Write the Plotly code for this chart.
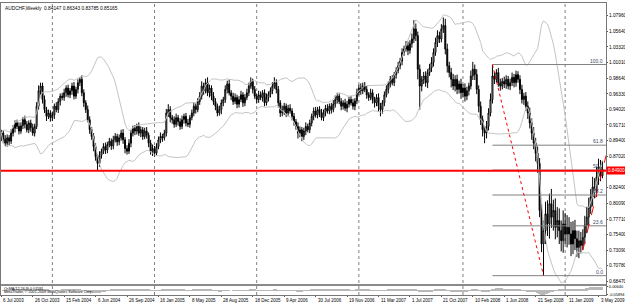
import numpy as np
import pandas as pd
import plotly.graph_objects as go

SYMBOL = "AUDCHF,Weekly"
START = "2003-07-06"
FIRST_OPEN = 0.898

CLOSE = [
    0.905, 0.896, 0.890, 0.898, 0.893, 0.905, 0.912, 0.920, 0.915, 0.908,
    0.916, 0.925, 0.918, 0.910, 0.920, 0.913, 0.905, 0.915,
    0.945, 0.968, 0.975,
    0.955, 0.940, 0.930, 0.935, 0.928,
    0.932, 0.945, 0.940, 0.952, 0.960, 0.958, 0.965, 0.972, 0.962, 0.968,
    0.975, 0.960, 0.970, 0.980, 0.985,
    0.965, 0.950, 0.940, 0.925, 0.910, 0.900, 0.885,
    0.870, 0.860, 0.872,
    0.878, 0.885, 0.880, 0.888, 0.893, 0.886, 0.895, 0.900, 0.892, 0.898,
    0.905, 0.895, 0.882, 0.878, 0.890, 0.905, 0.912,
    0.908, 0.915, 0.905, 0.910, 0.900, 0.908, 0.902,
    0.890, 0.878, 0.882, 0.875, 0.885,
    0.895, 0.900, 0.898, 0.905,
    0.935, 0.940, 0.928,
    0.925, 0.918, 0.928, 0.922, 0.915, 0.925, 0.930, 0.920, 0.918, 0.928,
    0.935, 0.945, 0.940, 0.952, 0.960,
    0.975, 0.968, 0.980, 0.965, 0.972, 0.960, 0.952,
    0.945, 0.935, 0.940, 0.950, 0.955,
    0.970, 0.978, 0.965,
    0.960, 0.952, 0.958, 0.948, 0.955, 0.962, 0.950, 0.958, 0.965,
    0.975, 0.982, 0.970,
    0.960, 0.955, 0.962, 0.958, 0.965, 0.950, 0.958, 0.963, 0.968,
    0.975, 0.980, 0.970,
    0.950, 0.935, 0.940, 0.945, 0.935, 0.942, 0.938, 0.930,
    0.922, 0.915, 0.905, 0.910, 0.900, 0.908, 0.915, 0.910, 0.920,
    0.930, 0.938, 0.932, 0.940, 0.935, 0.928, 0.936, 0.942, 0.938, 0.945, 0.940, 0.948,
    0.955, 0.960, 0.952,
    0.945, 0.950, 0.942, 0.948, 0.955, 0.950, 0.945, 0.953,
    0.965, 0.972, 0.968, 0.975, 0.970,
    0.962, 0.958, 0.965, 0.955, 0.950, 0.958,
    0.945, 0.940, 0.950,
    0.962, 0.970, 0.978, 0.985, 0.980, 0.992, 0.998, 1.005, 1.012,
    1.025, 1.030, 1.035, 1.028, 1.038, 1.045,
    1.060, 1.050,
    1.000, 0.975, 0.985,
    0.990, 0.980, 0.995, 1.002, 1.010,
    1.025, 1.040, 1.050, 1.045, 1.060,
    1.065,
    1.030, 1.005, 0.995, 0.985,
    0.975, 0.985, 0.970, 0.978, 0.965, 0.972,
    0.960, 0.968, 0.975, 0.990,
    1.000, 0.992,
    0.970, 0.945, 0.925, 0.910, 0.905, 0.915,
    0.935, 0.955,
    0.990, 0.985, 0.995, 0.980, 0.975, 0.982, 0.978, 0.985, 0.975, 0.980, 0.988, 0.980, 0.992, 0.985,
    0.970, 0.955, 0.960, 0.945, 0.935,
    0.920, 0.905, 0.890, 0.875,
    0.860,
    0.790, 0.740, 0.760,
    0.785, 0.770, 0.800, 0.780, 0.790, 0.765, 0.775,
    0.760, 0.745, 0.770, 0.755, 0.765,
    0.755, 0.740, 0.760, 0.748, 0.735, 0.745, 0.738,
    0.750, 0.768, 0.780,
    0.795, 0.810, 0.825, 0.820,
    0.840, 0.855, 0.84147, 0.85165,
]

# upper / lower wick lengths, thousandths
UW = [
    5, 4, 6, 5, 4, 6, 5, 4, 5, 6,
    5, 4, 6, 5, 4, 5, 6, 4,
    6, 8, 5,
    5, 6, 4, 5, 4,
    5, 4, 6, 5, 4, 5, 6, 4, 5, 4,
    5, 6, 4, 5, 3,
    6, 5, 4, 6, 5, 4, 5,
    5, 4, 6,
    4, 5, 6, 4, 5, 4, 6, 5, 4, 5,
    5, 6, 4, 5, 6, 5, 4,
    5, 4, 6, 5, 4, 5, 6,
    4, 5, 6, 4, 5,
    5, 6, 4, 5,
    6, 8, 5,
    4, 5, 6, 4, 5, 6, 4, 5, 6, 4,
    5, 6, 4, 5, 6,
    7, 5, 6, 8, 5, 4, 6,
    5, 4, 6, 5, 4,
    6, 5, 7,
    4, 5, 6, 4, 5, 6, 4, 5, 6,
    5, 6, 4,
    5, 4, 6, 5, 4, 5, 6, 4, 5,
    6, 8, 5,
    5, 4, 6, 5, 4, 5, 6, 4,
    5, 4, 6, 5, 4, 5, 6, 4, 5,
    4, 5, 6, 4, 5, 6, 4, 5, 6, 4, 5, 6,
    6, 5, 4,
    5, 4, 6, 5, 4, 5, 6, 4,
    6, 5, 7, 5, 6,
    5, 4, 6, 5, 4, 5,
    6, 5, 4,
    5, 6, 4, 5, 6, 4, 5, 6, 5,
    6, 5, 7, 6, 5, 8,
    13, 8,
    6, 7, 5,
    6, 7, 5, 6, 8,
    6, 7, 8, 6, 7,
    12,
    10, 8, 6, 7,
    8, 6, 7, 5, 8, 6,
    7, 6, 5, 8,
    11, 7,
    8, 6, 7, 6, 5, 8,
    7, 9,
    17, 6, 5, 7, 6, 5, 7, 6, 5, 6, 7, 5, 6, 5,
    6, 7, 5, 6, 7,
    8, 7, 9, 8,
    10,
    8, 10, 15,
    18, 20, 15, 22, 16, 18, 20,
    18, 15, 20, 16, 18,
    15, 18, 14, 16, 12, 15, 13,
    12, 14, 15,
    14, 12, 15, 13,
    15, 12, 10, 11.78,
]
LW = [
    5, 6, 4, 5, 6, 4, 5, 6, 4, 5,
    4, 5, 6, 4, 5, 6, 4, 5,
    4, 5, 6,
    6, 5, 7, 4, 6,
    5, 6, 4, 5, 6, 4, 5, 6, 4, 5,
    6, 5, 4, 6, 5,
    5, 6, 5, 4, 6, 5, 7,
    6, 10, 5,
    5, 4, 6, 5, 4, 6, 5, 4, 6, 5,
    4, 6, 7, 5, 4, 6, 5,
    6, 5, 4, 6, 5, 4, 5,
    6, 5, 7, 5, 4,
    4, 5, 6, 4,
    5, 6, 7,
    6, 5, 4, 6, 5, 4, 6, 5, 4, 5,
    4, 5, 6, 4, 5,
    5, 6, 4, 5, 7, 6, 5,
    6, 5, 4, 7, 5,
    5, 6, 4,
    6, 5, 4, 6, 5, 4, 6, 5, 4,
    5, 4, 6,
    4, 6, 5, 4, 6, 5, 4, 6, 5,
    5, 4, 6,
    7, 6, 5, 8, 6, 5, 4, 6,
    6, 5, 8, 6, 7, 5, 6, 4, 5,
    5, 6, 4, 5, 6, 4, 5, 6, 4, 5, 6, 4,
    5, 6, 4,
    6, 5, 4, 6, 5, 4, 5, 6,
    5, 4, 6, 5, 4,
    6, 5, 4, 6, 7, 5,
    8, 10, 6,
    5, 4, 6, 5, 4, 5, 6, 4, 5,
    6, 5, 4, 7, 5, 6,
    6, 8,
    15, 35, 8,
    7, 6, 8, 5, 6,
    6, 5, 7, 6, 5,
    6,
    8, 10, 7, 12,
    6, 8, 7, 6, 9, 7,
    8, 6, 7, 5,
    6, 8,
    7, 9, 8, 10, 15, 8,
    6, 5,
    6, 7, 5, 6, 7, 5, 6, 7, 5, 6, 5, 7, 6, 5,
    7, 6, 8, 7, 9,
    8, 10, 9, 12,
    14,
    10, 12, 47,
    20, 18, 22, 16, 20, 18, 15,
    20, 16, 18, 15, 20,
    16, 18, 15, 17, 14, 16, 12,
    7, 10, 12,
    12, 10, 14, 12,
    10, 12, 8, 3.62,
]

Y_TICKS = [1.07960, 1.05640, 1.03320, 1.01010, 0.98640, 0.96330, 0.94020, 0.91710,
           0.89400, 0.87020, 0.82400, 0.80090, 0.77710, 0.75400, 0.73090, 0.70780, 0.68470]
X_LABEL_DATES = ["2003-07-06", "2003-10-26", "2004-02-15", "2004-06-06", "2004-09-26",
                 "2005-01-16", "2005-05-08", "2005-08-28", "2005-12-18", "2006-04-09",
                 "2006-07-30", "2006-11-19", "2007-03-11", "2007-07-01", "2007-10-21",
                 "2008-02-10", "2008-06-01", "2008-09-21", "2009-01-11", "2009-05-03"]
X_LABELS = ["6 Jul 2003", "26 Oct 2003", "15 Feb 2004", "6 Jun 2004", "26 Sep 2004",
            "16 Jan 2005", "8 May 2005", "28 Aug 2005", "18 Dec 2005", "9 Apr 2006",
            "30 Jul 2006", "19 Nov 2006", "11 Mar 2007", "1 Jul 2007", "21 Oct 2007",
            "10 Feb 2008", "1 Jun 2008", "21 Sep 2008", "11 Jan 2009", "3 May 2009"]
YEAR_SEPARATORS = ["2004-01-04", "2005-01-02", "2006-01-01", "2006-12-31", "2008-01-06", "2009-01-04"]
HLINE_PRICE = 0.84900
FIB_LEVELS = [0.0, 0.236, 0.382, 0.5, 0.618, 1.0]
FIB_LABELS = ["0.0", "23.6", "38.2", "50.0", "61.8", "100.0"]
TREND_IDX = [296, 306]
TREND_PRICES = [0.731, 0.850]
SUB_LABELS = ["0.00640", "-0.05894"]
X_RANGE = ["2003-07-05", "2009-05-29 14:00"]
Y_RANGE = [0.6806, 1.0985]

n = len(CLOSE)
assert len(UW) == n and len(LW) == n
dates = pd.date_range(START, periods=n, freq="7D")
opens = [FIRST_OPEN] + CLOSE[:-1]
highs = [max(o, c) + u / 1000 for o, c, u in zip(opens, CLOSE, UW)]
lows = [min(o, c) - l / 1000 for o, c, l in zip(opens, CLOSE, LW)]

s = pd.Series(CLOSE)
mid = s.rolling(20, min_periods=1).mean()
sd = s.rolling(20, min_periods=2).std(ddof=0).fillna(0)
up = mid + 2 * sd
dn = mid - 2 * sd

ema12 = s.ewm(span=12, adjust=False).mean()
ema26 = s.ewm(span=26, adjust=False).mean()
macd = ema12 - ema26
sig = macd.rolling(9, min_periods=1).mean()
osma = macd - sig

FONT = "Liberation Sans"
fig = go.Figure()
for band in (up, dn):
    fig.add_trace(go.Scatter(x=dates, y=band, mode="lines", line=dict(color="#c4c4c4", width=1),
                             hoverinfo="skip", showlegend=False, xaxis="x", yaxis="y"))

fig.add_trace(go.Candlestick(
    x=dates, open=opens, high=highs, low=lows, close=CLOSE,
    increasing=dict(line=dict(color="#000000", width=1), fillcolor="#ffffff"),
    decreasing=dict(line=dict(color="#000000", width=1), fillcolor="#000000"),
    whiskerwidth=0, showlegend=False, xaxis="x", yaxis="y"))

fig.add_trace(go.Bar(x=dates, y=osma, marker=dict(color="#b8b8b8", line=dict(width=0)),
                     showlegend=False, xaxis="x2", yaxis="y2"))

# fibonacci
hi_idx = 245 + int(np.argmax(highs[245:270]))
lo_idx = 270 + int(np.argmin(lows[270:290]))
fhi, flo = highs[hi_idx], lows[lo_idx]
shapes = []
annotations = []
for lev, lab in zip(FIB_LEVELS, FIB_LABELS):
    p = flo + lev * (fhi - flo)
    shapes.append(dict(type="line", xref="x", yref="y", x0=dates[hi_idx], x1=X_RANGE[1], y0=p, y1=p,
                       line=dict(color="#808080", width=1)))
    annotations.append(dict(xref="x", yref="y", x=X_RANGE[1], y=p, text=lab, showarrow=False,
                            xanchor="right", yanchor="bottom", xshift=-1, yshift=-1,
                            font=dict(family=FONT, size=5, color="#3c4a6a")))
shapes.append(dict(type="line", xref="x", yref="y", x0=dates[hi_idx], y0=fhi, x1=dates[lo_idx], y1=flo,
                   line=dict(color="#ff0000", width=1, dash="dot")))

# trend line extended to right edge
t0, t1 = dates[TREND_IDX[0]], dates[TREND_IDX[1]]
slope = (TREND_PRICES[1] - TREND_PRICES[0]) / (t1 - t0).total_seconds()
xend = pd.Timestamp(X_RANGE[1])
yend = TREND_PRICES[0] + slope * (xend - t0).total_seconds()
shapes.append(dict(type="line", xref="x", yref="y", x0=t0, y0=TREND_PRICES[0], x1=xend, y1=yend,
                   line=dict(color="#ff0000", width=1, dash="dash")))

# horizontal line
shapes.append(dict(type="line", xref="paper", yref="y", x0=0, x1=1, y0=HLINE_PRICE, y1=HLINE_PRICE,
                   line=dict(color="#ff0000", width=2)))
annotations.append(dict(xref="paper", yref="y", x=1, y=HLINE_PRICE, text=f"{HLINE_PRICE:.5f}",
                        showarrow=False, xanchor="left", yanchor="middle", xshift=0,
                        bgcolor="#ff0000", borderpad=1,
                        font=dict(family=FONT, size=4.6, color="#ffffff")))

# period separators
for d in YEAR_SEPARATORS:
    shapes.append(dict(type="line", xref="x", yref="paper", x0=d, x1=d, y0=0, y1=1,
                       line=dict(color="#808080", width=1, dash="dot"), layer="below"))

PLOT_H = 292
SUB_TOP = 9 / PLOT_H
MAIN_BOT = 11 / PLOT_H
shapes.append(dict(type="rect", xref="paper", yref="paper", x0=0, x1=1, y0=SUB_TOP, y1=MAIN_BOT,
                   fillcolor="#8a8a8a", line=dict(width=0)))

# time-axis labels, left-aligned at their bars like the terminal draws them
for d, t in zip(X_LABEL_DATES, X_LABELS):
    annotations.append(dict(xref="x2", yref="paper", x=d, y=0, text=t, showarrow=False,
                            xanchor="left", yanchor="top", yshift=-1.5, xshift=1, borderpad=0,
                            font=dict(family=FONT, size=4.5, color="#000000")))

o, h, l, c = opens[-1], highs[-1], lows[-1], CLOSE[-1]
annotations.append(dict(xref="paper", yref="paper", x=0.003, y=0.997, xanchor="left", yanchor="top",
                        showarrow=False, text=f"{SYMBOL}  {o:.5f} {h:.5f} {l:.5f} {c:.5f}",
                        font=dict(family=FONT, size=4.8, color="#000000")))
annotations.append(dict(xref="paper", yref="paper", x=0.003, y=SUB_TOP, xanchor="left", yanchor="top",
                        showarrow=False, text=f"OsMA(12,26,9) {osma.iloc[-1]:.5f}", borderpad=0,
                        font=dict(family=FONT, size=3.7, color="#000000")))
annotations.append(dict(xref="paper", yref="paper", x=0.003, y=0.0, xanchor="left", yanchor="bottom",
                        showarrow=False, text="MetaTrader, © 2001-2009 MetaQuotes Software Corp.",
                        borderpad=0, font=dict(family=FONT, size=3.7, color="#000000")))

omin, omax = float(osma.min()), float(osma.max())
sub_range = [omin * 1.03, omax * 1.15]

fig.update_layout(
    width=625, height=306, margin=dict(l=1, r=19, t=3, b=11, autoexpand=False),
    paper_bgcolor="#ffffff", plot_bgcolor="#ffffff",
    showlegend=False, bargap=0,
    xaxis=dict(domain=[0, 1], anchor="y", type="date", range=X_RANGE, showticklabels=False,
               showgrid=False, zeroline=False, showline=True, mirror=True, linecolor="#777777",
               linewidth=1, rangeslider=dict(visible=False), ticks="", automargin=False),
    yaxis=dict(domain=[MAIN_BOT, 1], anchor="x", side="right", range=Y_RANGE,
               tickvals=Y_TICKS, ticktext=[f"{v:.5f}" for v in Y_TICKS],
               ticks="outside", ticklen=1, tickcolor="#555555", automargin=False,
               showgrid=False, zeroline=False, showline=True, mirror=True, linecolor="#777777",
               tickfont=dict(family=FONT, size=4.8, color="#000000")),
    xaxis2=dict(domain=[0, 1], anchor="y2", type="date", range=X_RANGE, matches="x",
                tickvals=X_LABEL_DATES, showticklabels=False,
                ticks="outside", ticklen=1, tickcolor="#555555", automargin=False,
                showgrid=False, zeroline=False, showline=True, mirror=True, linecolor="#777777"),
    yaxis2=dict(domain=[0, SUB_TOP], anchor="x2", side="right", range=sub_range,
                tickvals=[omax, omin], ticktext=SUB_LABELS, automargin=False,
                ticks="outside", ticklen=1, tickcolor="#555555",
                showgrid=False, zeroline=False, showline=True, mirror=True, linecolor="#777777",
                tickfont=dict(family=FONT, size=4, color="#000000")),
    shapes=shapes, annotations=annotations,
)

fig.write_html("out.html")
